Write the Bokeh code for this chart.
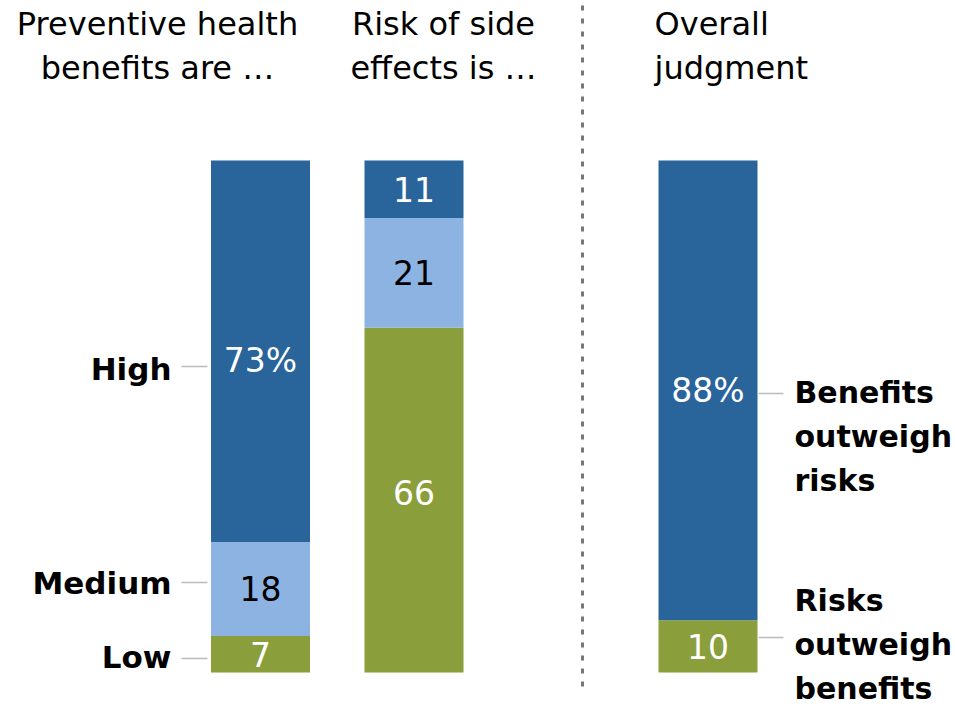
from bokeh.plotting import figure
from bokeh.models import Range1d
from bokeh.core.properties import value
from bokeh.embed import file_html
from bokeh.resources import INLINE

# ---------------- data ----------------
levels = ["Low", "Medium", "High"]
benefit_pct = [7, 18, 73]
risk_pct = [66, 21, 11]
judgment_cats = ["Risks outweigh benefits", "Benefits outweigh risks"]
judgment_pct = [10, 88]
header_benefit = ["Preventive health", "benefits are \u2026"]
header_risk = ["Risk of side", "effects is \u2026"]
header_judgment = ["Overall", "judgment"]
right_labels = [["Risks", "outweigh", "benefits"], ["Benefits", "outweigh", "risks"]]

# ---------------- styles ----------------
DARK = "#29649B"
LIGHT = "#8DB3E2"
GREEN = "#8A9E3B"
level_colors = {"Low": GREEN, "Medium": LIGHT, "High": DARK}
level_text = {"Low": "white", "Medium": "black", "High": "white"}
FONT = value("DejaVu Sans")

W, H = 955, 709
PX_PER_PCT = 512 / 98.0
BASE_PAGE_Y = 672.0
TEXT_DY = 12  # rendering offset correction for text baselines


def ypg(page_y):
    """convert a picture pixel row to data units (percent)"""
    return (BASE_PAGE_Y - page_y) / PX_PER_PCT


def ytxt(page_y):
    return ypg(page_y - TEXT_DY)


p = figure(width=W, height=H, output_backend="svg", toolbar_location=None,
           x_range=Range1d(0, W),
           y_range=Range1d(-(H - BASE_PAGE_Y) / PX_PER_PCT, BASE_PAGE_Y / PX_PER_PCT),
           x_axis_location=None, y_axis_location=None, min_border=0,
           outline_line_color=None)
p.grid.visible = False
p.background_fill_color = "white"
p.border_fill_color = "white"

BAR_W = 99
col_x = [260, 413.5, 707.5]


def stack(xc, vals, colors, tcolors, labels, label_shift=None):
    bottoms, tops = [], []
    acc = 0
    for v in vals:
        bottoms.append(acc)
        acc += v
        tops.append(acc)
    p.vbar(x=[xc] * len(vals), bottom=bottoms, top=tops, width=BAR_W,
           fill_color=colors, line_color=None)
    mids = [(b + t) / 2 for b, t in zip(bottoms, tops)]
    if label_shift:
        mids = [m + s for m, s in zip(mids, label_shift)]
    ys = [m - (12 - TEXT_DY) / PX_PER_PCT for m in mids]
    p.text(x=[xc] * len(vals), y=ys, text=labels, text_color=tcolors,
           text_font=FONT, text_font_size="33px", text_align="center",
           text_baseline="alphabetic")
    return mids


# column 1: benefits
b_labels = [str(v) for v in benefit_pct]
b_labels[-1] += "%"
stack(col_x[0], benefit_pct, [level_colors[l] for l in levels],
      [level_text[l] for l in levels], b_labels, label_shift=[0, 0, -1.7])

# column 2: risk
stack(col_x[1], risk_pct, [level_colors[l] for l in levels],
      [level_text[l] for l in levels], [str(v) for v in risk_pct],
      label_shift=[1.5, 0, 0])

# column 3: judgment
j_labels = [str(v) for v in judgment_pct]
j_labels[-1] += "%"
stack(col_x[2], judgment_pct, [GREEN, DARK], ["white", "white"], j_labels)

# headers
hdr_kw = dict(text_font=FONT, text_font_size="32px", text_baseline="alphabetic",
              text_color="black")
for xc, lines in ((157, header_benefit), (443, header_risk)):
    p.text(x=[xc, xc], y=[ytxt(35), ytxt(79)], text=lines, text_align="center", **hdr_kw)
p.text(x=[654, 654], y=[ytxt(35), ytxt(79)], text=header_judgment, text_align="left", **hdr_kw)

# left category labels + connectors
lab_kw = dict(text_font=FONT, text_font_size="30px", text_font_style="bold",
              text_baseline="alphabetic", text_color="black")
left_y = {"High": 369, "Medium": 583, "Low": 657}
left_conn = {"High": 366, "Medium": 582, "Low": 658}
p.text(x=[171] * 3, y=[ytxt(left_y[l] + 11) for l in levels], text=levels,
       text_align="right", text_font=FONT, text_font_size="31px",
       text_font_style="bold", text_baseline="alphabetic", text_color="black")
p.segment(x0=[181] * 3, x1=[207] * 3, y0=[ypg(left_conn[l]) for l in levels],
          y1=[ypg(left_conn[l]) for l in levels], line_color="#BBBBBB", line_width=1.5)

# right labels + connectors
right_base = [[612, 656, 700], [404, 448, 492]]
for lines, bases in zip(right_labels, right_base):
    p.text(x=[794] * 3, y=[ytxt(b) for b in bases], text=lines, text_align="left", **lab_kw)
conn_y = [637, 393]
p.segment(x0=[758] * 2, x1=[783] * 2, y0=[ypg(c) for c in conn_y],
          y1=[ypg(c) for c in conn_y], line_color="#BBBBBB", line_width=1.5)

# dotted divider
p.line(x=[582, 582], y=[ypg(5), ypg(692)], line_color="#777777", line_width=3,
       line_dash="5 8")

open("out.html", "w").write(file_html(p, INLINE))
